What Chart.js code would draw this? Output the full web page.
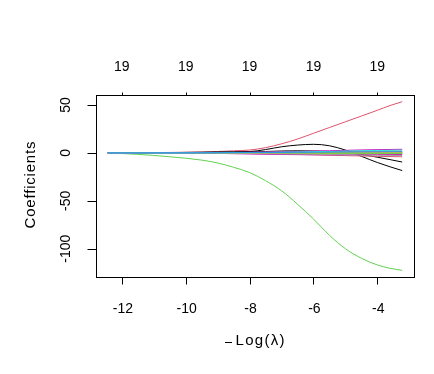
<!DOCTYPE html>
<html>
<head>
<meta charset="utf-8">
<script src="https://cdn.jsdelivr.net/npm/chart.js@4/dist/chart.umd.min.js"></script>
<style>
  html, body { margin: 0; padding: 0; background: #fff; }
  #wrap { width: 434px; height: 374px; }
</style>
</head>
<body>
<div id="wrap"><canvas id="chart" width="434" height="374"></canvas></div>
<script>
// Coefficient paths against -log(lambda)
const logLambda = [-12.44, -11.5, -10.5, -9.5, -9, -8.5, -8, -7.5, -7, -6.5, -6, -5.5, -5, -4.5, -4, -3.6, -3.22];

const xTicks = [-12, -10, -8, -6, -4];
const yTicks = [50, 0, -50, -100];
const dfLabels = ['19', '19', '19', '19', '19'];

// one array per variable (19 non-zero coefficients)
const coef1  = [0, 0.1, 0.3, 0.7, 1, 1.2, 1.4, 3.5, 6.4, 8.2, 9, 7.5, 3, -3.5, -10, -14.5, -18.4];
const coef2  = [0, 0.2, 0.5, 1, 1.5, 2.2, 3, 5.5, 9.5, 14.5, 20.5, 26.5, 32.5, 38.5, 44.5, 49.5, 53.5];
const coef3  = [0, -1.5, -4, -7.5, -10.5, -15, -20.5, -29, -39.5, -53.5, -69, -86, -100, -110, -117, -120.5, -122.6];
const coef4  = [0, 0, 0, 0.1, 0.1, 0.2, 0.3, 0.4, 0.5, 0.6, 0.7, 0.8, 0.9, 1.0, 1.1, 1.2, 1.2];
const coef5  = [0, 0, 0, 0.1, 0.2, 0.3, 0.4, 0.6, 0.8, 1.0, 1.3, 1.6, 2.0, 2.3, 2.6, 2.8, 3.0];
const coef6  = [0, 0, 0.1, 0.2, 0.3, 0.5, 0.7, 0.9, 1.2, 1.5, 1.9, 2.3, 2.7, 3.1, 3.4, 3.6, 3.8];
const coef7  = [0, 0, 0, 0, 0, 0.1, 0.1, 0.1, 0.2, 0.2, 0.2, 0.2, 0.3, 0.3, 0.3, 0.3, 0.3];
const coef8  = [0, 0, -0.1, -0.2, -0.3, -0.4, -0.6, -0.8, -1.0, -1.2, -1.4, -1.7, -2.0, -2.2, -2.5, -2.6, -2.8];
const coef9  = [0, 0, 0, 0, 0.2, 0.5, 1, 1.5, 2, 2.2, 2, 1.5, 0.5, -1.5, -4.5, -7, -9.5];
const coef10 = [0, 0, 0.1, 0.2, 0.3, 0.4, 0.5, 0.7, 0.9, 1.1, 1.3, 1.5, 1.7, 1.8, 1.9, 2.0, 2.0];
const coef11 = [0, 0, 0, -0.1, -0.1, -0.2, -0.3, -0.3, -0.4, -0.5, -0.5, -0.6, -0.6, -0.7, -0.7, -0.7, -0.7];
const coef12 = [0, 0, 0, 0.1, 0.1, 0.2, 0.2, 0.3, 0.4, 0.5, 0.5, 0.6, 0.7, 0.7, 0.7, 0.7, 0.7];
const coef13 = [0, 0, 0, 0, 0.1, 0.1, 0.2, 0.2, 0.3, 0.4, 0.5, 0.6, 0.7, 0.8, 0.9, 1.0, 1.0];
const coef14 = [0, 0, -0.1, -0.3, -0.5, -0.8, -1.1, -1.4, -1.6, -1.8, -1.9, -2.0, -2.0, -1.9, -1.8, -1.7, -1.7];
const coef15 = [0, 0, 0, 0, 0, -0.1, -0.1, -0.1, -0.2, -0.2, -0.2, -0.2, -0.2, -0.2, -0.2, -0.2, -0.2];
const coef16 = [0, 0, 0, 0, -0.1, -0.1, -0.2, -0.2, -0.3, -0.3, -0.4, -0.4, -0.5, -0.5, -0.5, -0.5, -0.5];
const coef17 = [0, 0, 0, 0.1, 0.1, 0.1, 0.2, 0.2, 0.2, 0.3, 0.3, 0.3, 0.3, 0.3, 0.3, 0.3, 0.3];
const coef18 = [0, 0, 0, -0.1, -0.2, -0.4, -0.6, -0.9, -1.2, -1.6, -2.0, -2.4, -2.8, -3.2, -3.6, -3.8, -4.0];
const coef19 = [0, 0, 0, 0, -0.1, -0.1, -0.1, -0.2, -0.2, -0.2, -0.3, -0.3, -0.3, -0.3, -0.3, -0.3, -0.3];

const allCoefs = [coef1, coef2, coef3, coef4, coef5, coef6, coef7, coef8, coef9, coef10,
                  coef11, coef12, coef13, coef14, coef15, coef16, coef17, coef18, coef19];

// R default palette, cycled like matplot does
const palette = ['#000000', '#DF536B', '#61D04F', '#2297E6', '#28E2E5', '#CD0BBC', '#F5C710', '#9E9E9E'];

const TICK_FONT = '14px "Liberation Sans", Arial, sans-serif';
const TITLE_FONT = '15px "Liberation Sans", Arial, sans-serif';

const datasets = allCoefs.map((vals, i) => ({
    label: 'V' + (i + 1),
    data: vals.map((v, j) => ({ x: logLambda[j], y: v })),
    borderColor: palette[i % palette.length],
    borderWidth: 1,
    pointRadius: 0,
    fill: false,
    cubicInterpolationMode: 'monotone'
}));
// draw the big paths last so they sit on top
datasets.sort((a, b) => {
    const big = d => ['V1', 'V2', 'V3', 'V9'].includes(d.label) ? 1 : 0;
    return big(a) - big(b);
});

// centred title text, loosened a little to R's wider run
function spacedText(ctx, str, cx, cy, width) {
    ctx.letterSpacing = '0px';
    const natural = ctx.measureText(str).width;
    const sp = Math.max(0, (width - natural) / Math.max(1, str.length - 1));
    ctx.letterSpacing = sp + 'px';
    const w = natural + sp * (str.length - 1);
    ctx.textAlign = 'left';
    ctx.fillText(str, cx - w / 2, cy);
    ctx.letterSpacing = '0px';
}

// R-style box, axes and labels
const baseAxes = {
    id: 'baseAxes',
    afterDraw(chart) {
        const { ctx, chartArea: a, scales: { x, y } } = chart;
        ctx.save();
        ctx.strokeStyle = '#000';
        ctx.fillStyle = '#000';
        ctx.lineWidth = 1;
        ctx.font = TICK_FONT;
        ctx.textBaseline = 'middle';
        ctx.textAlign = 'center';

        // box
        ctx.strokeRect(Math.round(a.left) + 0.5, Math.round(a.top) + 0.5,
                       Math.round(a.right - a.left), Math.round(a.bottom - a.top));

        // bottom axis
        const by = Math.round(a.bottom) + 0.5;
        ctx.beginPath();
        xTicks.forEach(t => {
            const px = Math.round(x.getPixelForValue(t)) + 0.5;
            ctx.moveTo(px, by);
            ctx.lineTo(px, by + 7);
        });
        ctx.stroke();
        xTicks.forEach(t => ctx.fillText(String(t), x.getPixelForValue(t) + 1, 309));

        // top axis: degrees of freedom
        const ty = Math.round(a.top) + 0.5;
        ctx.beginPath();
        xTicks.forEach(t => {
            const px = Math.round(x.getPixelForValue(t)) + 0.5;
            ctx.moveTo(px, ty);
            ctx.lineTo(px, ty - 3);
        });
        ctx.stroke();
        xTicks.forEach((t, i) => ctx.fillText(dfLabels[i], x.getPixelForValue(t), 67));

        // left axis
        const lx = Math.round(a.left) + 0.5;
        ctx.beginPath();
        yTicks.forEach(t => {
            const py = Math.round(y.getPixelForValue(t)) + 0.5;
            ctx.moveTo(lx, py);
            ctx.lineTo(lx - 9, py);
        });
        ctx.stroke();
        yTicks.forEach(t => {
            ctx.save();
            ctx.translate(66, y.getPixelForValue(t));
            ctx.rotate(-Math.PI / 2);
            ctx.fillText(String(t), 0, 0);
            ctx.restore();
        });

        // axis titles
        ctx.font = TITLE_FONT;
        ctx.save();
        ctx.translate(31, 185);
        ctx.rotate(-Math.PI / 2);
        spacedText(ctx, 'Coefficients', 0, 0, 87);
        ctx.restore();
        ctx.fillRect(225, 342, 7, 1);
        spacedText(ctx, 'Log(\u03bb)', 260, 341, 49);

        ctx.restore();
    }
};

new Chart(document.getElementById('chart'), {
    type: 'line',
    data: { datasets },
    options: {
        responsive: false,
        animation: false,
        events: [],
        layout: { padding: { left: 96, right: 20, top: 95, bottom: 97 } },
        scales: {
            x: { type: 'linear', min: -12.81, max: -2.85, display: false },
            y: { type: 'linear', min: -129.6, max: 60.5, display: false }
        },
        plugins: {
            legend: { display: false },
            tooltip: { enabled: false }
        }
    },
    plugins: [baseAxes]
});
</script>
</body>
</html>
